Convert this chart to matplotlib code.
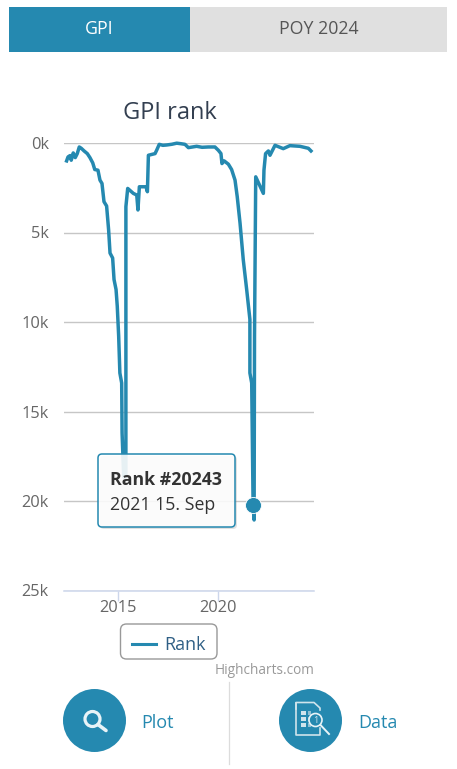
import matplotlib
matplotlib.use("Agg")
import matplotlib.pyplot as plt
from matplotlib.patches import FancyBboxPatch, Rectangle, Circle
from matplotlib.lines import Line2D

plt.rcParams['font.family'] = ['Open Sans', 'DejaVu Sans']

W, H = 457, 769
BLUE = '#2589b0'

years = [2012.46, 2012.53, 2012.63, 2012.69, 2012.79, 2012.89, 2012.99, 2013.09, 2013.19, 2013.33,
         2013.49, 2013.62, 2013.76, 2013.86, 2014.02, 2014.12, 2014.22, 2014.32, 2014.45, 2014.55,
         2014.62, 2014.75, 2014.82, 2014.92, 2014.98, 2015.05, 2015.11, 2015.20, 2015.22, 2015.30,
         2015.41, 2015.41, 2015.41, 2015.50, 2015.78, 2015.95, 2016.01, 2016.08, 2016.41, 2016.48, 2016.53,
         2016.86, 2016.94, 2017.07, 2017.25, 2017.44, 2017.70, 2017.94, 2018.15, 2018.35, 2018.52, 2018.93,
         2019.20, 2019.51, 2019.84, 2020.01, 2020.14, 2020.19, 2020.30, 2020.51, 2020.67, 2020.84,
         2020.95, 2021.09, 2021.25, 2021.42, 2021.58, 2021.58, 2021.58, 2021.67, 2021.74, 2021.79,
         2021.81, 2021.87, 2022.25, 2022.28, 2022.36, 2022.50, 2022.58, 2022.83, 2023.24, 2023.57,
         2024.07, 2024.49, 2024.62]
ranks = [1000, 778, 704, 963, 556, 815, 593, 222, 296, 444,
         593, 815, 1111, 1482, 1519, 2074, 2259, 3278, 3519, 4852,
         6148, 6426, 7630, 8186, 9112, 10778, 12849, 13408, 16200, 18650,
         18650, 10778, 3556, 2537, 2815, 2908, 3741, 2445, 2445, 2722, 685,
         593, 407, 74, 130, 111, 70, 10, 40, 74, 259, 185,
         240, 222, 222, 407, 590, 1148, 1000, 1185, 1482, 2074,
         3000, 4480, 6520, 8190, 9850, 10780, 12849, 13408, 20243, 21060,
         10778, 1889, 2815, 1519, 593, 444, 685, 130, 315, 148,
         185, 296, 444]
highlight_year, highlight_rank = 2021.74, 20243
y_ticks = [0, 5000, 10000, 15000, 20000, 25000]
y_labels = ['0k', '5k', '10k', '15k', '20k', '25k']
x_ticks = [2015, 2020]
x_labels = ['2015', '2020']
tabs = ['GPI', 'POY 2024']

fig = plt.figure(figsize=(W / 100, H / 100), dpi=100, facecolor='white')

# chart axes
L, R, T, B = 64, 314, 143, 590.5
ax = fig.add_axes([L / W, 1 - B / H, (R - L) / W, (B - T) / H])
ax.set_xlim(2012.33, 2024.77)
ax.set_ylim(25000, 0)
ax.set_yticks(y_ticks, y_labels)
ax.set_xticks(x_ticks, x_labels)
ax.tick_params(axis='y', length=0, pad=11, labelsize=11.8, labelcolor='#666666')
ax.tick_params(axis='x', length=7, width=1, color='#ccd6eb', pad=0, labelsize=11.8, labelcolor='#666666')
for s in ['top', 'left', 'right']:
    ax.spines[s].set_visible(False)
ax.spines['bottom'].set_color('#ccd6eb')
ax.spines['bottom'].set_linewidth(1.1)
ax.grid(axis='y', color='#c6c6c6', lw=1.0)
ax.set_axisbelow(True)
ax.plot(years, ranks, color=BLUE, lw=2.5, solid_joinstyle='round', clip_on=False, zorder=3)
ax.plot([highlight_year], [highlight_rank], 'o', color=BLUE, ms=11.5, mec='white', mew=0.6,
        clip_on=False, zorder=4)

# overlay in pixel coordinates
ov = fig.add_axes([0, 0, 1, 1], facecolor='none')
ov.set_xlim(0, W)
ov.set_ylim(H, 0)
ov.axis('off')

# tabs
ov.add_patch(Rectangle((9, 7), 181, 45, fc=BLUE, ec='none'))
ov.add_patch(Rectangle((190, 7), 257, 45, fc='#e0e0e0', ec='none'))
ov.text(99.5, 29.5, tabs[0], color='white', fontsize=12.8, ha='center', va='center')
ov.text(319, 29.5, tabs[1], color='#555555', fontsize=12.8, ha='center', va='center')

# title
ov.text(170, 113, 'GPI rank', color='#333f50', fontsize=17, ha='center', va='center')

# tooltip
ov.add_patch(FancyBboxPatch((100, 456), 137, 73, boxstyle='round,pad=0,rounding_size=4',
                            fc='#888888', ec='none', alpha=0.25, zorder=5))
ov.add_patch(FancyBboxPatch((98, 454), 137, 73, boxstyle='round,pad=0,rounding_size=4',
                            fc=(1, 1, 1, 0.88), ec=BLUE, lw=1.1, zorder=6))
ov.text(110, 480, 'Rank #20243', color='#333333', fontsize=12.8, fontweight='bold',
        va='center', zorder=7)
ov.text(110, 504.5, '2021 15. Sep', color='#333333', fontsize=12.8, va='center', zorder=7)

# legend
ov.add_patch(FancyBboxPatch((120.5, 624), 96.5, 35, boxstyle='round,pad=0,rounding_size=6',
                            fc='white', ec='#999999', lw=1.0))
ov.add_line(Line2D([132, 156], [644, 644], color=BLUE, lw=2.2))
ov.text(164, 644.5, 'Rank', color='#2f5f85', fontsize=13, va='center')

# credits
ov.text(314, 670.5, 'Highcharts.com', color='#999999', fontsize=9.8, ha='right', va='center')

# bottom buttons
ov.add_line(Line2D([228.5, 228.5], [682, 764], color='#dcdcdc', lw=0.9))
ov.add_patch(Circle((94.5, 720.5), 31.5, fc=BLUE, ec='none'))
ov.add_patch(Circle((310.5, 720.5), 31.5, fc=BLUE, ec='none'))
ov.text(141.5, 722.5, 'Plot', color=BLUE, fontsize=13, va='center')
ov.text(358, 722.5, 'Data', color=BLUE, fontsize=13, va='center')

# magnifier icon
ov.add_patch(Circle((92.5, 719), 7.5, fc='none', ec='#e8f3f7', lw=2.3))
ov.add_line(Line2D([98, 106], [724.5, 730.5], color='#e8f3f7', lw=2.6, solid_capstyle='round'))

# data icon
ov.add_line(Line2D([296, 296, 314, 320, 320], [709, 702.5, 702.5, 708, 710], color='#cfe4ec', lw=1.2))
ov.add_line(Line2D([296, 296, 320, 320], [702.5, 735, 735, 728], color='#cfe4ec', lw=1.2))
for yy in (711, 717, 723):
    ov.add_patch(Rectangle((301, yy), 5, 3.5, fc='#cfe4ec', ec='none'))
    ov.add_patch(Rectangle((308, yy), 3, 3.5, fc='#8fc0d4', ec='none'))
ov.add_patch(Circle((315.5, 720), 6.5, fc=BLUE, ec='#e8f3f7', lw=1.2))
ov.text(315.5, 720.5, '1', color='#cfe4ec', fontsize=6.5, ha='center', va='center')
ov.add_line(Line2D([320.5, 329], [725, 734], color='#e8f3f7', lw=1.4))

fig.savefig('out.png', dpi=100)
